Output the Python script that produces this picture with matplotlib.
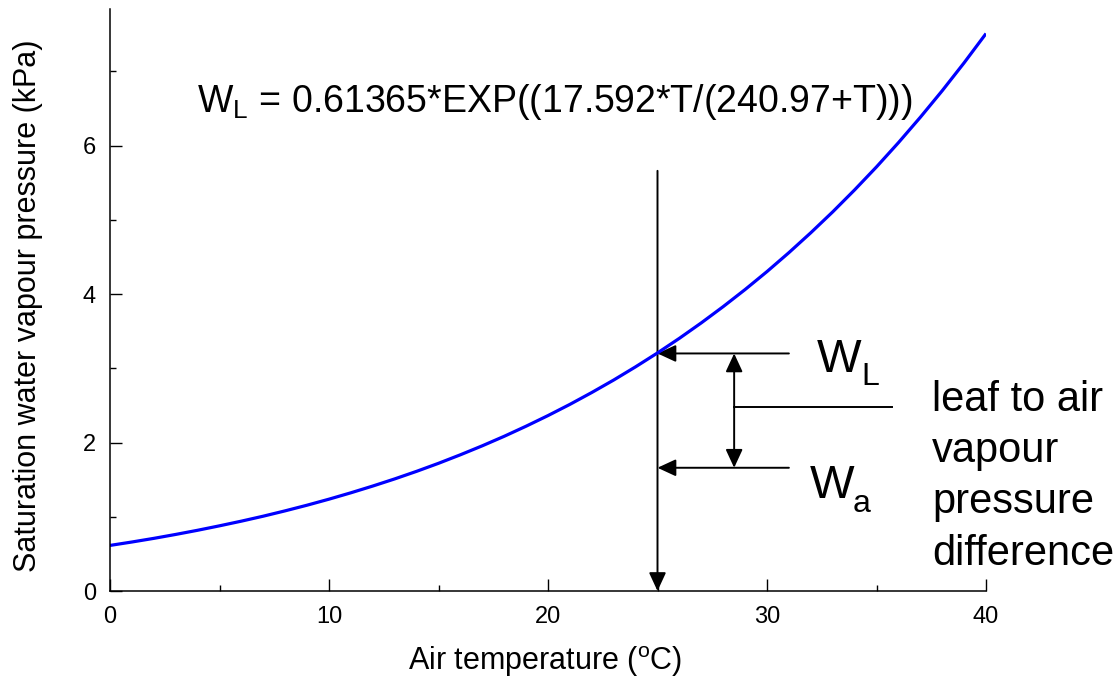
import matplotlib
matplotlib.use("Agg")
import matplotlib.pyplot as plt
from matplotlib.patches import FancyArrowPatch
from matplotlib.ticker import MultipleLocator

plt.rcParams['font.family'] = ['Liberation Sans', 'DejaVu Sans']
plt.rcParams['mathtext.fontset'] = 'custom'
plt.rcParams['mathtext.rm'] = 'Liberation Sans'
plt.rcParams['mathtext.it'] = 'Liberation Sans:italic'
plt.rcParams['mathtext.bf'] = 'Liberation Sans:bold'

# ---- data ----
temperature = [0, 1, 2, 3, 4, 5, 6, 7, 8, 9, 10, 11, 12, 13, 14, 15, 16, 17, 18, 19, 20,
               21, 22, 23, 24, 25, 26, 27, 28, 29, 30, 31, 32, 33, 34, 35, 36, 37, 38, 39, 40]
sat_vp = [0.614, 0.660, 0.709, 0.762, 0.818, 0.878, 0.941, 1.008, 1.080, 1.156, 1.237,
          1.323, 1.414, 1.510, 1.612, 1.720, 1.835, 1.956, 2.084, 2.220, 2.363,
          2.514, 2.674, 2.842, 3.020, 3.207, 3.404, 3.612, 3.831, 4.061, 4.303,
          4.558, 4.826, 5.107, 5.403, 5.713, 6.039, 6.381, 6.739, 7.115, 7.509]
x_ticks = [0, 10, 20, 30, 40]
y_ticks = [0, 2, 4, 6]

t_air = 25
w_leaf = 3.2
w_air = 1.66
vline_top = 5.66
arrow_start_x = 31.0
diff_x = 28.5
diff_line_end = 35.7
diff_line_y = 2.48

fig = plt.figure(figsize=(11.16, 6.8), dpi=100)
ax = fig.add_axes([110/1116, 89/680, 876/1116, 582/680])

ax.plot(temperature, sat_vp, color='#0000ff', lw=2.3, solid_capstyle='butt')

ax.set_xlim(0, 40)
ax.set_ylim(0, 7.84)
ax.set_xticks(x_ticks)
ax.set_yticks(y_ticks)
ax.xaxis.set_minor_locator(MultipleLocator(5))
ax.yaxis.set_minor_locator(MultipleLocator(1))
for s in ['top', 'right']:
    ax.spines[s].set_visible(False)
for s in ['left', 'bottom']:
    ax.spines[s].set_linewidth(1.1)
ax.tick_params(which='major', direction='in', length=8.6, width=1.0, labelsize=17)
ax.tick_params(which='minor', direction='in', length=4.3, width=1.0)
ax.tick_params(axis='x', which='major', pad=11)
ax.tick_params(axis='y', which='major', pad=10)

ax.set_xlabel(r'Air temperature ($^{\mathrm{o}}$C)', fontsize=22, va='baseline')
ax.xaxis.set_label_coords(0.4966, -0.1357)
ax.set_ylabel('Saturation water vapour pressure (kPa)', fontsize=22,
              va='center', ha='center', rotation_mode='default')
ax.yaxis.set_label_coords(-0.094, 0.49)

style = '-|>,head_length=0.8,head_width=0.37'
def arrow(p0, p1, st=style):
    a = FancyArrowPatch(p0, p1, arrowstyle=st, mutation_scale=14, lw=1.4,
                        color='black', shrinkA=0, shrinkB=0, clip_on=False)
    ax.add_patch(a)

arrow((t_air, vline_top), (t_air, 0))
arrow((arrow_start_x, w_leaf), (t_air, w_leaf))
arrow((arrow_start_x, w_air), (t_air, w_air))
arrow((diff_x, w_air), (diff_x, w_leaf), st='<|-|>,head_length=0.8,head_width=0.37')
ax.plot([diff_x, diff_line_end], [diff_line_y, diff_line_y], color='black', lw=1.4,
        clip_on=False)

ax.text(3.95, 6.45, r'W$_{\mathrm{L}}$ = 0.61365*EXP((17.592*T/(240.97+T)))',
        fontsize=27, ha='left', va='baseline')

# big labels with subscripts
ax.text(32.28, 2.95, 'W', fontsize=34, ha='left', va='baseline')
ax.text(34.33, 2.77, 'L', fontsize=23, ha='left', va='baseline')
ax.text(31.96, 1.25, 'W', fontsize=34, ha='left', va='baseline')
ax.text(33.90, 1.07, 'a', fontsize=23, ha='left', va='baseline')

for txt, yb in zip(['leaf to air', 'vapour', 'pressure', 'difference'],
                   [2.424, 1.737, 1.05, 0.35]):
    ax.text(37.53, yb, txt, fontsize=30, ha='left', va='baseline', clip_on=False)

fig.savefig('out.png', dpi=100)
